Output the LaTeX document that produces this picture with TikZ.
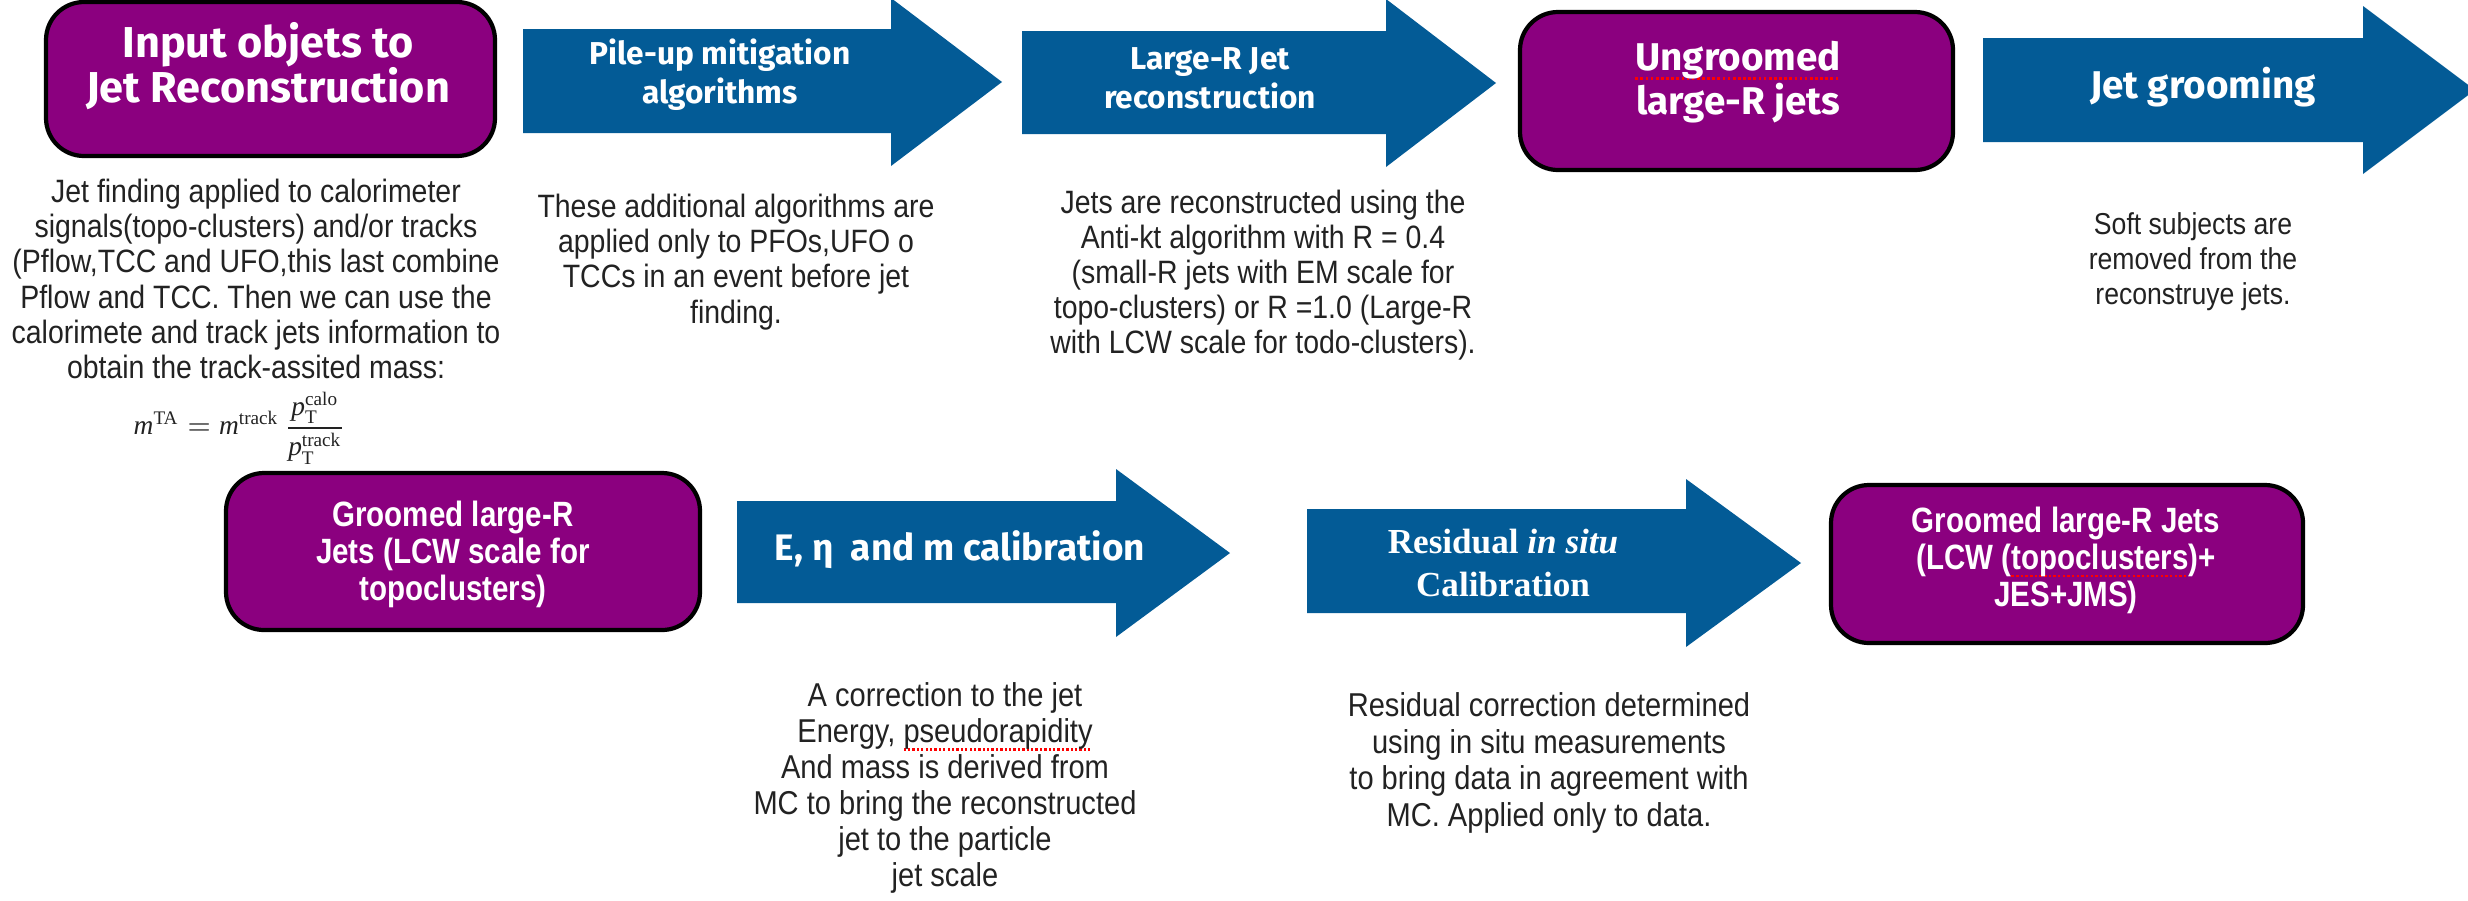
\documentclass[tikz,border=0pt]{standalone}
\usepackage{fontspec}
\usepackage{amsmath}
\usetikzlibrary{positioning}
\newfontfamily\headfont{Fira Sans}
\newfontfamily\bodyfont[FakeStretch=0.88]{Liberation Sans}
\newfontfamily\narrowfont[FakeStretch=0.84]{Liberation Sans}
\newfontfamily\serifhead{Liberation Serif}
\definecolor{jetpurple}{HTML}{8B007F}
\definecolor{flowblue}{HTML}{035B96}
\definecolor{notegray}{HTML}{222222}
% red dotted spell-check underline
\newsavebox\spellbox
\newcommand{\spellmark}[1]{\leavevmode\sbox\spellbox{#1}%
    \rlap{\textcolor{red}{\raisebox{-0.45ex}{\hbox to \wd\spellbox{%
    \xleaders\hbox{\rule{0.13ex}{0.13ex}\hskip0.12ex}\hfill}}}}\usebox\spellbox}
% serif letters for the mass formula
\newcommand{\fsr}[1]{\text{\serifhead #1}}
\newcommand{\fsi}[1]{\text{\serifhead\itshape #1}}

\begin{document}
\begin{tikzpicture}[
    jetbox/.style={draw=black, line width=1.2pt, fill=jetpurple, rounded corners=0.38cm},
    boxtitle/.style={text=white, align=center, inner sep=0pt},
    flow/.style={fill=flowblue},
    steptext/.style={text=white, align=center, inner sep=0pt,
                     font=\headfont\bfseries\fontsize{9}{11}\selectfont},
    note/.style={text=notegray, align=center, inner sep=0pt,
                 font=\bodyfont\fontsize{9.2}{10}\selectfont},
]
    \useasboundingbox (0,0) rectangle (24.68,-9);

    % first row
    \node[jetbox, minimum width=4.49cm, minimum height=1.54cm] (input) at (2.705,-0.79) {};
    \node[boxtitle, font=\headfont\bfseries\fontsize{12.3}{13}\selectfont] (inputtext)
        at (2.68,-0.66) {Input objets to\\Jet Reconstruction};

    \fill[flow] (5.23,-0.29) -- (8.91,-0.29) -- (8.91,0.02) -- (10.02,-0.82)
        -- (8.91,-1.66) -- (8.91,-1.33) -- (5.23,-1.33) -- cycle;
    \node[steptext] (pileup) at (7.20,-0.75) {Pile-up mitigation\\algorithms};

    \fill[flow] (10.22,-0.31) -- (13.86,-0.31) -- (13.86,0.01) -- (14.96,-0.83)
        -- (13.86,-1.67) -- (13.86,-1.34) -- (10.22,-1.34) -- cycle;
    \node[steptext] (largeR) at (12.10,-0.78) {Large-R Jet\\reconstruction};

    \node[jetbox, minimum width=4.33cm, minimum height=1.58cm] (ungroomed) at (17.365,-0.91) {};
    \node[boxtitle, font=\headfont\bfseries\fontsize{11}{11}\selectfont] (ungroomedtext)
        at (17.38,-0.82) {\spellmark{Ungroomed}\\large-R jets};

    \fill[flow] (19.83,-0.38) -- (23.63,-0.38) -- (23.63,-0.06) -- (24.75,-0.90)
        -- (23.63,-1.74) -- (23.63,-1.42) -- (19.83,-1.42) -- cycle;
    \node[steptext, font=\headfont\bfseries\fontsize{11}{12}\selectfont] (grooming)
        at (22.03,-0.87) {Jet grooming};

    % notes under the first row
    \node[note] (findnote) at (2.56,-2.79) {Jet finding applied to calorimeter\\
        signals(topo-clusters) and/or tracks\\(Pflow,TCC and UFO,this last combine\\
        Pflow and TCC. Then we can use the\\calorimete and track jets information to\\
        obtain the track-assited mass:};
    \node[text=notegray, inner sep=0pt, font=\fontsize{7.8}{9}\selectfont] (tamass) at (2.40,-4.28)
        {$\fsi{m}^{\fsr{TA}} = \fsi{m}^{\fsr{track}}\,
         \dfrac{\fsi{p}_{\fsr{T}}^{\fsr{calo}}}{\fsi{p}_{\fsr{T}}^{\fsr{track}}}$};
    \node[note] (pileupnote) at (7.36,-2.62) {These additional algorithms are\\
        applied only to PFOs,UFO o\\TCCs in an event before jet\\finding.};
    \node[note] (largeRnote) at (12.63,-2.75) {Jets are reconstructed using the\\
        Anti-kt algorithm with R = 0.4\\(small-R jets with EM scale for\\
        topo-clusters) or R =1.0 (Large-R\\with LCW scale for todo-clusters).};
    \node[note, font=\bodyfont\fontsize{8.6}{10}\selectfont] (groomnote) at (21.93,-2.62)
        {Soft subjects are\\removed from the\\reconstruye jets.};

    % second row
    \node[jetbox, minimum width=4.74cm, minimum height=1.57cm] (groomed) at (4.63,-5.515) {};
    \node[boxtitle, font=\narrowfont\bfseries\fontsize{10}{10.5}\selectfont] (groomedtext)
        at (4.53,-5.54) {Groomed large-R\\Jets (LCW scale for\\topoclusters)};

    \fill[flow] (7.37,-5.01) -- (11.16,-5.01) -- (11.16,-4.69) -- (12.30,-5.53)
        -- (11.16,-6.37) -- (11.16,-6.03) -- (7.37,-6.03) -- cycle;
    \node[steptext, font=\headfont\bfseries\fontsize{10.5}{12}\selectfont] (emcalib)
        at (9.60,-5.50) {E, η\ \ and m calibration};

    \fill[flow] (13.07,-5.09) -- (16.86,-5.09) -- (16.86,-4.79) -- (18.01,-5.63)
        -- (16.86,-6.47) -- (16.86,-6.13) -- (13.07,-6.13) -- cycle;
    \node[steptext, font=\serifhead\bfseries\fontsize{10}{12}\selectfont] (insitu)
        at (15.03,-5.63) {Residual \textit{in situ}\\Calibration};

    \node[jetbox, minimum width=4.72cm, minimum height=1.58cm] (final) at (20.67,-5.64) {};
    \node[boxtitle, font=\narrowfont\bfseries\fontsize{10}{10.5}\selectfont] (finaltext)
        at (20.66,-5.60) {Groomed large-R Jets\\(LCW (\spellmark{topoclusters})+\\JES+JMS)};

    % notes under the second row
    \node[note, font=\bodyfont\fontsize{9.4}{10.2}\selectfont] (emnote) at (9.45,-7.88)
        {A correction to the jet\\Energy, \spellmark{pseudorapidity}\\And mass is derived from\\
        MC to bring the reconstructed\\jet to the particle\\jet scale};
    \node[note, font=\bodyfont\fontsize{9.4}{10.4}\selectfont] (insitunote) at (15.49,-7.63)
        {Residual correction determined\\using in situ measurements\\
        to bring data in agreement with\\MC. Applied only to data.};
\end{tikzpicture}
\end{document}
